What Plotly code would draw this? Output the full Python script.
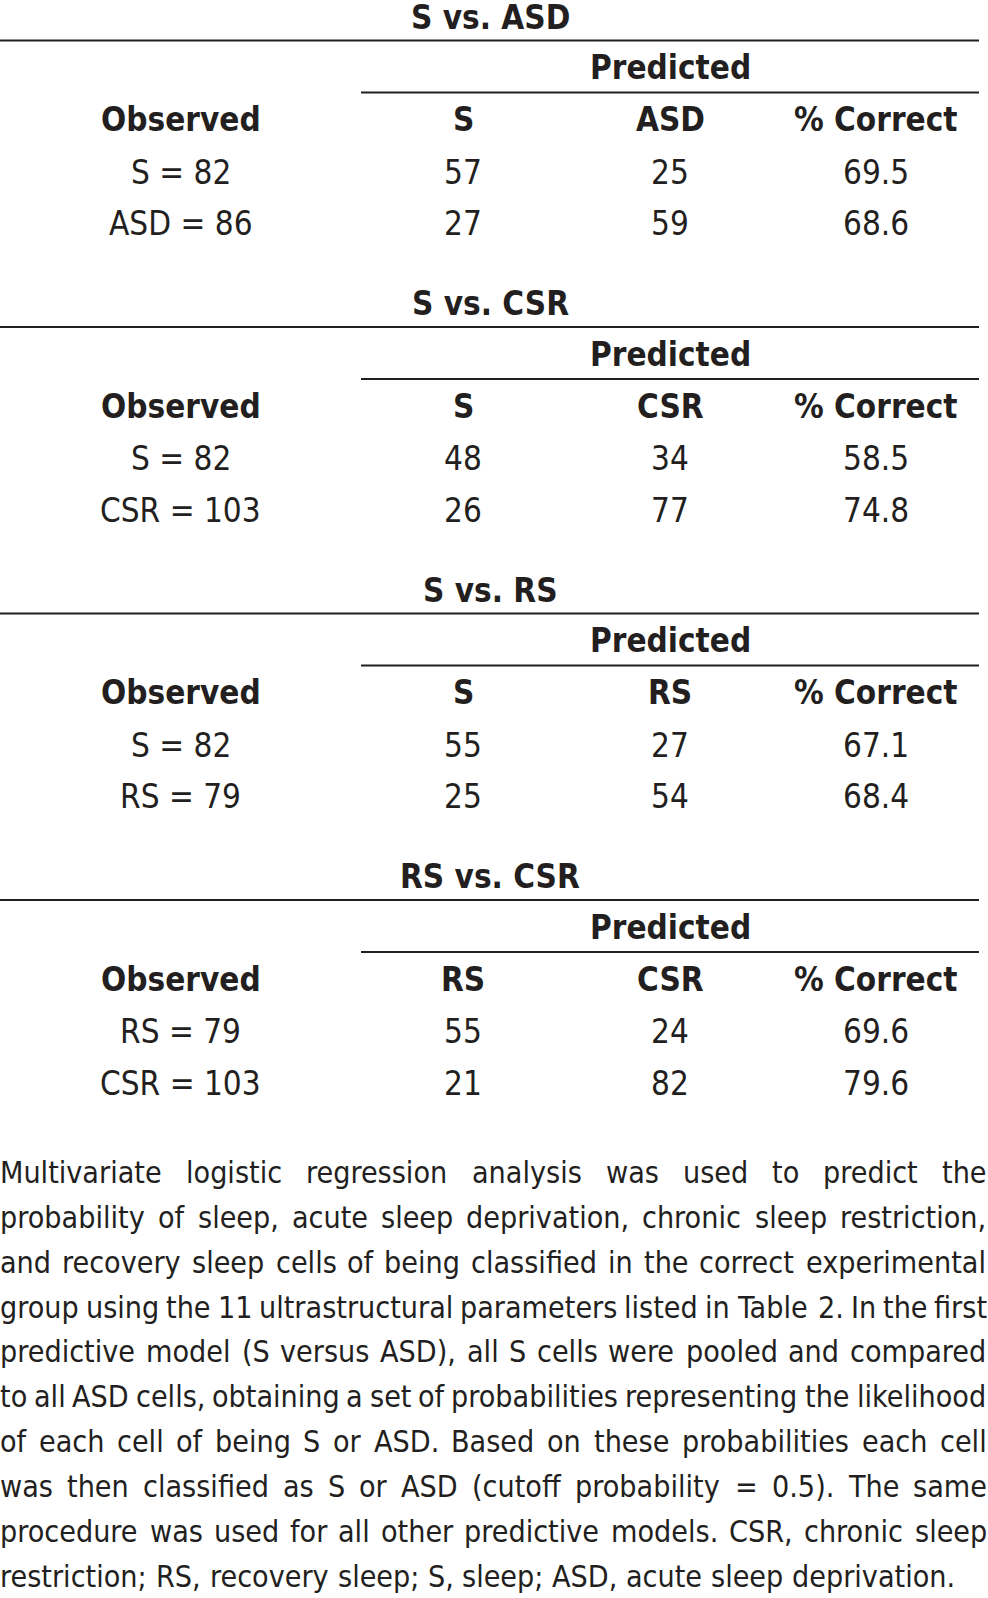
import plotly.graph_objects as go

# ---------------- data ----------------
titles = ["S vs. ASD", "S vs. CSR", "S vs. RS", "RS vs. CSR"]
group_a = ["S", "S", "S", "RS"]
group_b = ["ASD", "CSR", "RS", "CSR"]
n_a = [82, 82, 82, 79]
n_b = [86, 103, 79, 103]
a_pred_a = [57, 48, 55, 55]
a_pred_b = [25, 34, 27, 24]
b_pred_a = [27, 26, 25, 21]
b_pred_b = [59, 77, 54, 82]
pct_a = ["69.5", "58.5", "67.1", "69.6"]
pct_b = ["68.6", "74.8", "68.4", "79.6"]

footnote_lines = [
    "Multivariate logistic regression analysis was used to predict the",
    "probability of sleep, acute sleep deprivation, chronic sleep restriction,",
    "and recovery sleep cells of being classified in the correct experimental",
    "group using the 11 ultrastructural parameters listed in Table 2. In the first",
    "predictive model (S versus ASD), all S cells were pooled and compared",
    "to all ASD cells, obtaining a set of probabilities representing the likelihood",
    "of each cell of being S or ASD. Based on these probabilities each cell",
    "was then classified as S or ASD (cutoff probability = 0.5). The same",
    "procedure was used for all other predictive models. CSR, chronic sleep",
    "restriction; RS, recovery sleep; S, sleep; ASD, acute sleep deprivation.",
]

# ---------------- layout constants ----------------
W, H = 988, 1598
FONT = "DejaVu Sans Condensed, Liberation Sans Narrow, Arial Narrow, sans-serif"
INK = "#231f20"
TSIZE = 33
col_x = [180.5, 463, 670, 876]
title_x = 490
sec_step = 286.5
rel = dict(title=17, line1=40.5, pred=67.5, line2=92.5, head=119.5, r1=172, r2=223.5)

fig = go.Figure()
annotations = []
shapes = []


def txt(x, y, s, bold=False, size=TSIZE, anchor="center"):
    annotations.append(dict(
        x=x, y=y, xref="x", yref="y", text=("<b>%s</b>" % s) if bold else s,
        showarrow=False, xanchor=anchor, yanchor="middle",
        font=dict(family=FONT, size=size, color=INK), borderpad=0, borderwidth=0,
    ))


for i in range(len(titles)):
    y0 = i * sec_step
    txt(title_x, y0 + rel["title"], titles[i], bold=True)
    shapes.append(dict(type="line", xref="x", yref="y", x0=0, x1=979,
                       y0=y0 + rel["line1"], y1=y0 + rel["line1"],
                       line=dict(color=INK, width=2.2)))
    txt(col_x[2], y0 + rel["pred"], "Predicted", bold=True)
    shapes.append(dict(type="line", xref="x", yref="y", x0=361, x1=979,
                       y0=y0 + rel["line2"], y1=y0 + rel["line2"],
                       line=dict(color=INK, width=2.2)))
    heads = ["Observed", group_a[i], group_b[i], "% Correct"]
    for cx, hs in zip(col_x, heads):
        txt(cx, y0 + rel["head"], hs, bold=True)
    row1 = ["%s = %d" % (group_a[i], n_a[i]), str(a_pred_a[i]), str(a_pred_b[i]), pct_a[i]]
    row2 = ["%s = %d" % (group_b[i], n_b[i]), str(b_pred_a[i]), str(b_pred_b[i]), pct_b[i]]
    for cx, s in zip(col_x, row1):
        txt(cx, y0 + rel["r1"], s)
    for cx, s in zip(col_x, row2):
        txt(cx, y0 + rel["r2"], s)

# ---------------- justified footnote (DejaVu Sans metrics, condensed) ----------------
AW = {' ': 651, '(': 799, ')': 799, ',': 651, '-': 739, '.': 651, ':': 690, ';': 690,
      '=': 1716, '%': 1946}
for d in "0123456789":
    AW[d] = 1303
AW.update(dict(A=1401, B=1405, C=1430, D=1577, E=1294, F=1178, G=1587, H=1540, I=604,
               J=604, K=1343, L=1141, M=1767, N=1532, O=1612, P=1235, Q=1612, R=1423,
               S=1300, T=1251, U=1499, V=1401, W=2025, X=1403, Y=1251, Z=1403))
AW.update(dict(a=1255, b=1300, c=1126, d=1300, e=1260, f=721, g=1300, h=1298, i=569,
               j=569, k=1186, l=569, m=1995, n=1298, o=1253, p=1300, q=1300, r=842,
               s=1067, t=803, u=1298, v=1212, w=1675, x=1212, y=1212, z=1075))
COND = 0.9


def wwidth(s, size):
    return sum(AW.get(c, 1300) for c in s) / 2048.0 * COND * size


left, right = 0.0, 987.0
foot_y0, foot_step = 1172.5, 44.86
min_gap_em = 0.22
fsize = 31.0
for line in footnote_lines[:-1]:
    words = line.split(" ")
    unit = sum(wwidth(w, 1.0) for w in words) + min_gap_em * (len(words) - 1)
    fsize = min(fsize, (right - left) / unit)

for li, line in enumerate(footnote_lines):
    y = foot_y0 + li * foot_step
    words = line.split(" ")
    if li == len(footnote_lines) - 1:
        gap = wwidth(" ", fsize)
    else:
        tot = sum(wwidth(w, fsize) for w in words)
        gap = (right - left - tot) / (len(words) - 1)
    x = left
    for w in words:
        txt(x, y, w, size=fsize, anchor="left")
        x += wwidth(w, fsize) + gap

fig.update_layout(
    width=W, height=H, margin=dict(l=0, r=0, t=0, b=0),
    paper_bgcolor="white", plot_bgcolor="white",
    xaxis=dict(range=[0, W], visible=False, fixedrange=True),
    yaxis=dict(range=[H, 0], visible=False, fixedrange=True),
    annotations=annotations, shapes=shapes, showlegend=False,
)
fig.write_html("out.html", config={"displayModeBar": False},
               post_script="document.body.style.margin='0';")
